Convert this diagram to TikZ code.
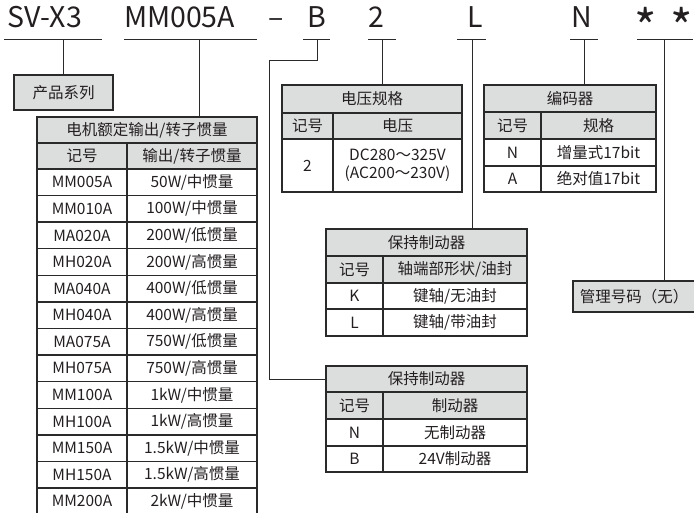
\documentclass[tikz,border=0pt]{standalone}
\usepackage{fontspec}
\setmainfont{Noto Sans CJK SC}
\definecolor{ln}{HTML}{2A2A2A}
\definecolor{hd}{HTML}{DCDDDD}
\definecolor{tx}{HTML}{231F20}
\newcommand{\cellbox}[7]{\node[cellst,fill=#6,minimum width={#4-#2},minimum height={#5-#3}] (#1) at ({(#2+#4)/2},{(#3+#5)/2}) {#7};}
\begin{document}
\begin{tikzpicture}[x=1pt,y=-1pt,
  conn/.style={draw=ln,line width=1pt},
  cellst/.style={draw=ln,line width=1.4pt,inner sep=0pt,outer sep=0pt,align=center,text=tx,font=\fontsize{15.5}{18}\selectfont},
  toptext/.style={inner sep=0pt,outer sep=0pt,anchor=base west,text=tx,font=\fontsize{28.5}{30}\selectfont},
  startext/.style={inner sep=0pt,outer sep=0pt,anchor=north,text=tx,font=\fontsize{48}{50}\selectfont}]
\useasboundingbox (0,0) rectangle (694,513);
% top code
\node[toptext] (sv) at (8,28) {SV-X3};
\node[toptext] (mm) at (124,28) {MM005A};
\node[toptext] (dash) at (268,28) {–};
\node[toptext] (cb) at (307,28) {B};
\node[toptext] (c2) at (368,28) {2};
\node[toptext] (cl) at (467,28) {L};
\node[toptext] (cn) at (571,28) {N};
\node[startext] (st1) at (646,7) {*};
\node[startext] (st2) at (682,7) {*};
% underline coordinates
\coordinate (u1a) at (4,40); \coordinate (u1b) at (102,40); \coordinate (k1) at (63,40);
\coordinate (u2a) at (124,40); \coordinate (u2b) at (257,40); \coordinate (k2) at (199,40);
\coordinate (u3a) at (303,40); \coordinate (u3b) at (330,40); \coordinate (k3) at (317,40);
\coordinate (u4a) at (368,40); \coordinate (u4b) at (396,40); \coordinate (k4) at (382,40);
\coordinate (u5a) at (457,40); \coordinate (u5b) at (486,40); \coordinate (k5) at (472,40);
\coordinate (u6a) at (570,40); \coordinate (u6b) at (598,40); \coordinate (k6) at (584,40);
\coordinate (u7a) at (637,40); \coordinate (u7b) at (693,40); \coordinate (k7) at (664,40);
\coordinate (bend) at (269,61);
\foreach \i in {1,...,7}{\draw[conn] (u\i a) -- (u\i b);}
% product series box
\cellbox{prod}{14}{75}{113}{110}{hd}{产品系列}
% management code box
\cellbox{mgmt}{573}{281}{695}{312}{hd}{管理号码（无）}
% motor table
\cellbox{mh}{37}{117}{257}{143}{hd}{电机额定输出/转子惯量}
\cellbox{mk}{37}{143}{127}{169}{hd}{记号}
\cellbox{mo}{127}{143}{257}{169}{hd}{输出/转子惯量}
\foreach \i/\a/\b in {1/MM005A/{50W/中惯量},2/MM010A/{100W/中惯量},3/MA020A/{200W/低惯量},4/MH020A/{200W/高惯量},5/MA040A/{400W/低惯量},6/MH040A/{400W/高惯量},7/MA075A/{750W/低惯量},8/MH075A/{750W/高惯量},9/MM100A/{1kW/中惯量},10/MH100A/{1kW/高惯量},11/MM150A/{1.5kW/中惯量},12/MH150A/{1.5kW/高惯量},13/MM200A/{2kW/中惯量}}{
  \pgfmathsetmacro\ya{169+26.58*(\i-1)}
  \pgfmathsetmacro\yb{169+26.58*\i}
  \cellbox{m\i a}{37}{\ya}{127}{\yb}{white}{\a}
  \cellbox{m\i b}{127}{\ya}{257}{\yb}{white}{\b}
}
% voltage table
\cellbox{vh}{282}{85}{462}{113}{hd}{电压规格}
\cellbox{vk}{282}{113}{333}{139}{hd}{记号}
\cellbox{vv}{333}{113}{462}{139}{hd}{电压}
\cellbox{v1a}{282}{139}{333}{192}{white}{2}
\cellbox{v1b}{333}{139}{462}{192}{white}{DC280～325V\\(AC200～230V)}
% encoder table
\cellbox{eh}{484}{85}{656}{112}{hd}{编码器}
\cellbox{ek}{484}{112}{541}{139}{hd}{记号}
\cellbox{es}{541}{112}{656}{139}{hd}{规格}
\cellbox{e1a}{484}{139}{541}{166}{white}{N}
\cellbox{e1b}{541}{139}{656}{166}{white}{增量式17bit}
\cellbox{e2a}{484}{166}{541}{192}{white}{A}
\cellbox{e2b}{541}{166}{656}{192}{white}{绝对值17bit}
% shaft table
\cellbox{sh}{326}{229}{527}{256}{hd}{保持制动器}
\cellbox{sk}{326}{256}{383}{283}{hd}{记号}
\cellbox{ss}{383}{256}{527}{283}{hd}{轴端部形状/油封}
\cellbox{s1a}{326}{283}{383}{309}{white}{K}
\cellbox{s1b}{383}{283}{527}{309}{white}{键轴/无油封}
\cellbox{s2a}{326}{309}{383}{336}{white}{L}
\cellbox{s2b}{383}{309}{527}{336}{white}{键轴/带油封}
% brake table
\cellbox{bh}{326}{366}{527}{392}{hd}{保持制动器}
\cellbox{bk}{326}{392}{383}{419}{hd}{记号}
\cellbox{bb}{383}{392}{527}{419}{hd}{制动器}
\cellbox{b1a}{326}{419}{383}{446}{white}{N}
\cellbox{b1b}{383}{419}{527}{446}{white}{无制动器}
\cellbox{b2a}{326}{446}{383}{472}{white}{B}
\cellbox{b2b}{383}{446}{527}{472}{white}{24V制动器}
% connectors
\draw[conn] (k1) -- (k1 |- prod.north);
\draw[conn] (k2) -- (k2 |- mh.north);
\draw[conn] (k3) |- (bend) |- (bh.west);
\draw[conn] (k4) -- (k4 |- vh.north);
\draw[conn] (k5) -- (k5 |- sh.north);
\draw[conn] (k6) -- (k6 |- eh.north);
\draw[conn] (k7) -- (k7 |- mgmt.north);
\end{tikzpicture}
\end{document}
